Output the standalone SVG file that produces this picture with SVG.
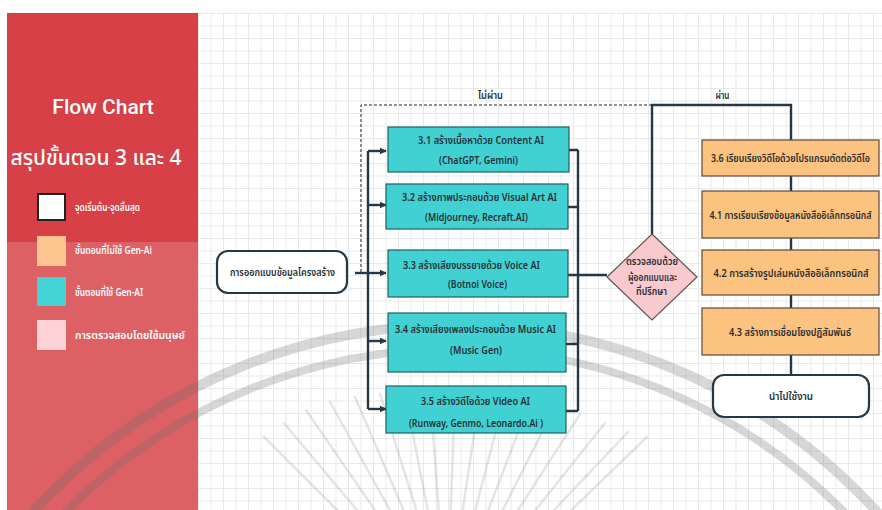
<svg xmlns="http://www.w3.org/2000/svg" width="882" height="510" viewBox="0 0 882 510">
<defs>
<pattern id="grid" x="198" y="13" width="12.5" height="12.5" patternUnits="userSpaceOnUse">
<path d="M0 0.5H12.5M0.5 0V12.5" fill="none" stroke="#e9e9e9" stroke-width="1"/>
</pattern>
<marker id="arr" viewBox="0 0 10 10" refX="9" refY="5" markerWidth="7" markerHeight="7" markerUnits="userSpaceOnUse" orient="auto">
<path d="M0 0L10 5L0 10Z" fill="#263845"/>
</marker>
<style>
.th{font-family:"Noto Sans Thai","Noto Sans","DejaVu Sans",sans-serif}
.leg{font-size:10.5px;fill:#ffffff;font-weight:600}
.t{font-size:11px;fill:#2a2f33;font-weight:600;text-anchor:middle}
.ts{font-size:10px}
.cy{fill:#41d1d3;stroke:#1f5f63;stroke-width:1.2}
.or{fill:#fcc380;stroke:#5a4a3a;stroke-width:1.2}
.term{fill:#ffffff;stroke:#263845;stroke-width:2.2}
.ln{fill:none;stroke:#263845;stroke-width:2.4}
.dash{fill:none;stroke:#222;stroke-width:1;stroke-dasharray:3 2}
.wm{fill:none;stroke:#6e6e6e}
</style>
</defs>
<rect x="0" y="0" width="882" height="510" fill="#ffffff"/>
<rect x="198" y="13" width="684" height="497" fill="url(#grid)"/>
<!-- side panel -->
<rect x="7" y="13" width="191" height="229" fill="#d64046"/>
<rect x="7" y="242" width="191" height="268" fill="#dc6064"/>
<!-- watermark -->
<g id="watermark">
<circle class="wm" cx="455" cy="895" r="570" stroke-width="10" stroke-opacity="0.28"/>
<circle class="wm" cx="455" cy="895" r="546" stroke-width="8" stroke-opacity="0.28"/>
<g class="wm" stroke-width="2.5" stroke-linecap="round" stroke-opacity="0.18">
<line x1="264" y1="437" x2="372" y2="545"/>
<line x1="284" y1="423" x2="382" y2="540"/>
<line x1="306" y1="410" x2="392" y2="535"/>
<line x1="330" y1="402" x2="402" y2="532"/>
<line x1="355" y1="397" x2="412" y2="530"/>
<line x1="380" y1="394" x2="422" y2="528"/>
<line x1="405" y1="393" x2="431" y2="527"/>
<line x1="430" y1="393" x2="440" y2="527"/>
<line x1="455" y1="394" x2="450" y2="527"/>
<line x1="480" y1="395" x2="460" y2="528"/>
<line x1="505" y1="397" x2="470" y2="530"/>
<line x1="530" y1="401" x2="480" y2="532"/>
<line x1="555" y1="407" x2="490" y2="535"/>
<line x1="580" y1="414" x2="500" y2="538"/>
<line x1="605" y1="423" x2="510" y2="542"/>
<line x1="628" y1="432" x2="520" y2="546"/>
<line x1="647" y1="437" x2="530" y2="550"/>
</g>
</g>
<!-- legend -->
<g id="legend" class="th">
<text x="103" y="114" text-anchor="middle" font-family="Roboto,'Liberation Sans',sans-serif" font-size="21" font-weight="500" fill="#fff">Flow Chart</text>
<text x="96" y="165" text-anchor="middle" font-size="21" font-weight="500" fill="#fff">สรุปขั้นตอน 3 และ 4</text>
<rect x="38" y="194" width="27" height="26" fill="#fff" stroke="#222" stroke-width="2"/>
<text class="leg" x="75" y="211" textLength="65" lengthAdjust="spacingAndGlyphs">จุดเริ่มต้น-จุดสิ้นสุด</text>
<rect x="37" y="236" width="29" height="30" fill="#fdc590"/>
<text class="leg" x="75" y="254" textLength="77" lengthAdjust="spacingAndGlyphs">ขั้นตอนที่ไม่ใช้ Gen-Ai</text>
<rect x="37" y="277" width="29" height="29" fill="#44d3d4"/>
<text class="leg" x="75" y="296" textLength="68" lengthAdjust="spacingAndGlyphs">ขั้นตอนที่ใช้ Gen-AI</text>
<rect x="37" y="320" width="29" height="30" fill="#fdd3d6"/>
<text class="leg" x="75" y="339" textLength="110" lengthAdjust="spacingAndGlyphs">การตรวจสอบโดยใช้มนุษย์</text>
</g>
<!-- connectors -->
<g id="connectors">
<line class="ln" x1="355" y1="273" x2="386" y2="273" marker-end="url(#arr)"/>
<line class="ln" x1="368" y1="151" x2="368" y2="409"/>
<path class="ln" d="M368 151H386" marker-end="url(#arr)"/>
<path class="ln" d="M368 205H386" marker-end="url(#arr)"/>
<path class="ln" d="M368 341H386" marker-end="url(#arr)"/>
<path class="ln" d="M368 409H386" marker-end="url(#arr)"/>
<path class="ln" d="M569 150H578M568 207H578M566 344H578M566 411H578M568 275H607M578 150V411"/>
<path class="ln" d="M652 234V105H791V140"/>
<path class="dash" d="M652 105H361V272"/>
<path class="ln" d="M791 176V191M791 238V250M791 295V308M791 355V375"/>
<text class="th t" x="490.5" y="99" textLength="25" lengthAdjust="spacingAndGlyphs">ไม่ผ่าน</text>
<text class="th t" x="722.5" y="99" textLength="14" lengthAdjust="spacingAndGlyphs">ผ่าน</text>
</g>
<!-- nodes -->
<g id="start" class="th">
<rect class="term" x="217" y="251" width="130" height="42" rx="11"/>
<text class="t" x="282.5" y="276" font-size="11.5" textLength="105" lengthAdjust="spacingAndGlyphs">การออกแบบข้อมูลโครงสร้าง</text>
</g>
<g id="n31" class="th">
<rect class="cy" x="388" y="127" width="181" height="45"/>
<text class="t" x="481" y="144" textLength="126" lengthAdjust="spacingAndGlyphs">3.1 สร้างเนื้อหาด้วย Content AI</text>
<text class="t" x="478.5" y="164" textLength="79" lengthAdjust="spacingAndGlyphs">(ChatGPT, Gemini)</text>
</g>
<g id="n32" class="th">
<rect class="cy" x="386" y="184" width="182" height="45"/>
<text class="t" x="479.5" y="201" textLength="155" lengthAdjust="spacingAndGlyphs">3.2 สร้างภาพประกอบด้วย Visual Art  AI</text>
<text class="t" x="476.5" y="221" textLength="103" lengthAdjust="spacingAndGlyphs">(Midjourney, Recraft.AI)</text>
</g>
<g id="n33" class="th">
<rect class="cy" x="388" y="250" width="180" height="47"/>
<text class="t" x="471.5" y="269" textLength="137" lengthAdjust="spacingAndGlyphs">3.3 สร้างเสียงบรรยายด้วย Voice AI</text>
<text class="t" x="477.5" y="288" textLength="59" lengthAdjust="spacingAndGlyphs">(Botnoi Voice)</text>
</g>
<g id="n34" class="th">
<rect class="cy" x="388" y="313" width="178" height="59"/>
<text class="t" x="475.5" y="333" textLength="161" lengthAdjust="spacingAndGlyphs">3.4 สร้างเสียงเพลงประกอบด้วย Music AI</text>
<text class="t" x="476" y="354" textLength="52" lengthAdjust="spacingAndGlyphs">(Music Gen)</text>
</g>
<g id="n35" class="th">
<rect class="cy" x="386" y="386" width="180" height="47"/>
<text class="t" x="475.5" y="405" textLength="109" lengthAdjust="spacingAndGlyphs">3.5 สร้างวิดีโอด้วย Video AI</text>
<text class="t" x="476" y="427" textLength="134" lengthAdjust="spacingAndGlyphs">(Runway, Genmo, Leonardo.Ai )</text>
</g>
<g id="check" class="th">
<polygon points="652,234 697,277 652,320 607,277" fill="#f8cacd" stroke="#5e5457" stroke-width="1.2"/>
<text class="t ts" x="652" y="265" textLength="52" lengthAdjust="spacingAndGlyphs">ตรวจสอบด้วย</text>
<text class="t ts" x="652.5" y="281" textLength="49" lengthAdjust="spacingAndGlyphs">ผู้ออกแบบและ</text>
<text class="t ts" x="651.5" y="295" textLength="31" lengthAdjust="spacingAndGlyphs">ที่ปรึกษา</text>
</g>
<g id="n36" class="th">
<rect class="or" x="702" y="140" width="177" height="36"/>
<text class="t ts" x="790.5" y="162" textLength="159" lengthAdjust="spacingAndGlyphs">3.6 เรียบเรียงวิดีโอด้วยโปรแกรมตัดต่อวิดีโอ</text>
</g>
<g id="n41" class="th">
<rect class="or" x="702" y="191" width="177" height="47"/>
<text class="t ts" x="790.5" y="219" textLength="162" lengthAdjust="spacingAndGlyphs">4.1 การเรียบเรียงข้อมูลหนังสืออิเล็กทรอนิกส์</text>
</g>
<g id="n42" class="th">
<rect class="or" x="702" y="250" width="177" height="45"/>
<text class="t ts" x="791" y="277" textLength="155" lengthAdjust="spacingAndGlyphs">4.2 การสร้างรูปเล่มหนังสืออิเล็กทรอนิกส์</text>
</g>
<g id="n43" class="th">
<rect class="or" x="702" y="308" width="177" height="47"/>
<text class="t" x="790" y="336" textLength="122" lengthAdjust="spacingAndGlyphs">4.3 สร้างการเชื่อมโยงปฏิสัมพันธ์</text>
</g>
<g id="end" class="th">
<rect class="term" x="713" y="375" width="156" height="42" rx="11"/>
<text class="t" x="791" y="400" textLength="44" lengthAdjust="spacingAndGlyphs">นำไปใช้งาน</text>
</g>
</svg>
